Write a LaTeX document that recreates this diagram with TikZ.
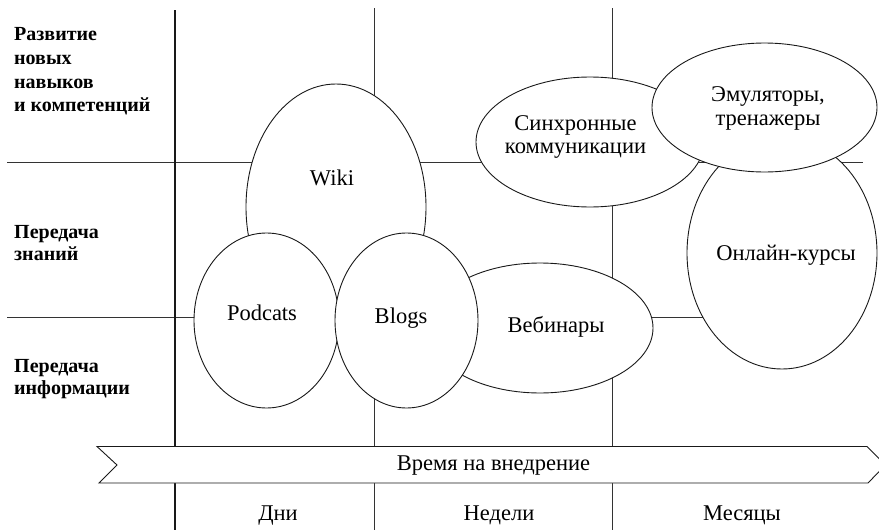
\documentclass[tikz,border=0pt]{standalone}
\usepackage{fontspec}
\setmainfont{Liberation Serif}
\usetikzlibrary{shapes.geometric}
\begin{document}
\begin{tikzpicture}[x=1pt,y=-1pt,
  gridline/.style={draw=black!80, line width=0.9pt},
  axisline/.style={draw=black!90, line width=2.2pt},
  blob/.style={ellipse, draw=black!90, line width=0.9pt, fill=white, inner sep=0pt},
  txt/.style={font=\fontsize{22.5}{24}\selectfont, text=black, inner sep=0pt, anchor=base},
  rowlab/.style={font=\fontsize{20}{23}\selectfont\bfseries, text=black, inner sep=0pt, anchor=base west},
  band/.style={draw=black!90, line width=0.9pt, fill=white, line join=miter}]
\useasboundingbox (0,0) rectangle (879,530);
\clip (0,0) rectangle (879,530);

% grid of rows and columns
\draw[gridline] (7,162.5) -- (863,162.5);
\draw[gridline] (7,317.7) -- (850,317.7);
\draw[gridline] (374,8) -- (374,530);
\draw[gridline] (612,8) -- (612,530);
\draw[axisline] (175,10) -- (175,530);

% row headings
\node[rowlab] (r1a) at (14,41)    {Развитие};
\node[rowlab] (r1b) at (14,64.5)  {новых};
\node[rowlab] (r1c) at (14,88)    {навыков};
\node[rowlab] (r1d) at (14,111.5) {и компетенций};
\node[rowlab] (r2a) at (14,238)   {Передача};
\node[rowlab] (r2b) at (14,260)   {знаний};
\node[rowlab] (r3a) at (14,372)   {Передача};
\node[rowlab] (r3b) at (14,394)   {информации};

% tools, back to front
\node[blob, minimum width=180pt, minimum height=246pt] (wiki)    at (336,207)     {};
\node[blob, minimum width=226pt, minimum height=130pt] (webinar) at (540,328)     {};
\node[blob, minimum width=145pt, minimum height=175pt] (podcats) at (266.5,320.5) {};
\node[blob, minimum width=143pt, minimum height=175pt] (blogs)   at (406.5,320.5) {};
\node[blob, minimum width=228pt, minimum height=130pt] (sync)    at (590,142)     {};
\node[blob, minimum width=190pt, minimum height=232pt] (online)  at (782,253)     {};
\node[blob, minimum width=225pt, minimum height=129pt] (emul)    at (764.5,107.5) {};

\node[txt] (wikit)    at (332,185)   {Wiki};
\node[txt] (podcatst) at (262,320.7) {Podcats};
\node[txt] (blogst)   at (401,323.3) {Blogs};
\node[txt] (webinart) at (556,332.7) {Вебинары};
\node[txt] (synca)    at (575.5,130) {Синхронные};
\node[txt] (syncb)    at (575.5,153) {коммуникации};
\node[txt] (emula)    at (768,101.7) {Эмуляторы,};
\node[txt] (emulb)    at (768,125)   {тренажеры};
\node[txt] (onlinet)  at (786,260)   {Онлайн-курсы};

% time arrow
\draw[band] (97,446.5) -- (867,446.5) -- (885.5,465) -- (868,483) -- (99,483) -- (117,465) -- cycle;
\node[txt] (timet) at (493.5,470) {Время на внедрение};

% column headings
\node[txt] (days)   at (278,520) {Дни};
\node[txt] (weeks)  at (499,520) {Недели};
\node[txt] (months) at (742,520) {Месяцы};
\end{tikzpicture}
\end{document}
